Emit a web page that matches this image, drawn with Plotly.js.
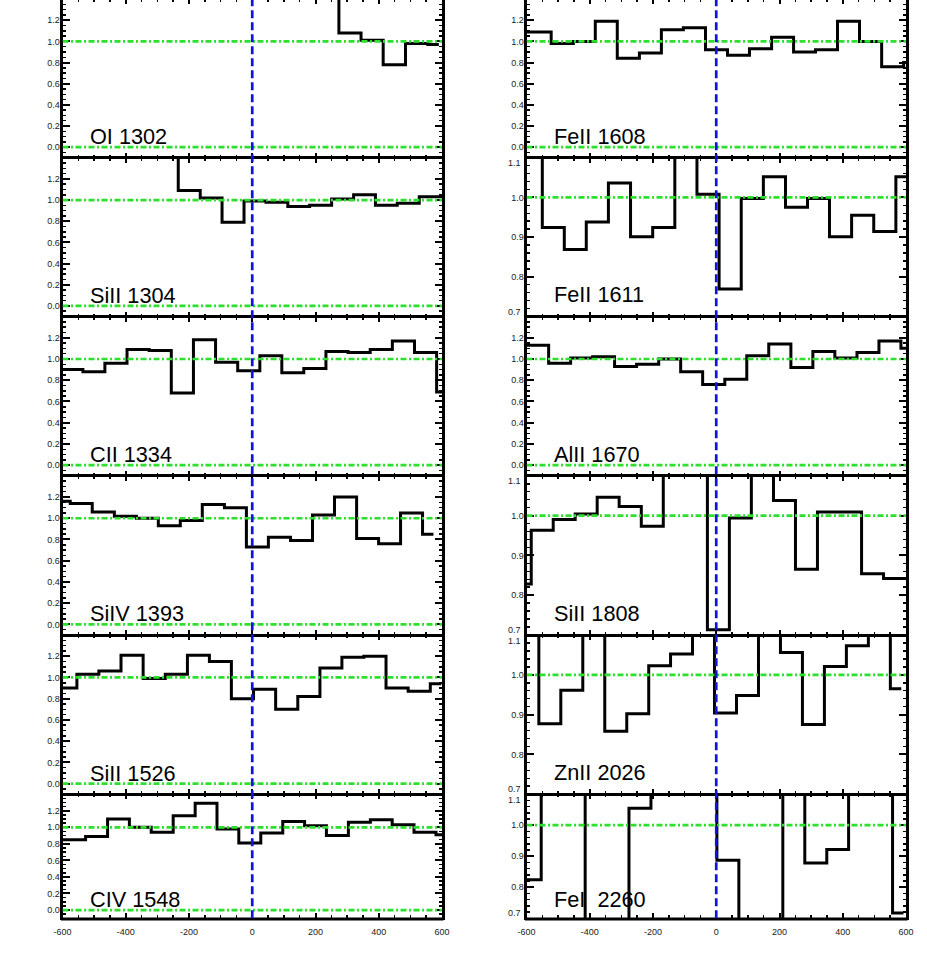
<!DOCTYPE html>
<html><head><meta charset="utf-8">
<script src="https://cdn.plot.ly/plotly-3.0.1.min.js"></script>
<style>html,body{margin:0;padding:0;background:#fff;overflow:hidden}
#plot{position:absolute;left:0;top:-3px;width:927px;height:960px}</style>
</head><body><div id="plot"></div><script>
// ---- data (velocity km/s bin centres, normalised flux) ----
const labels = ["OI 1302","SiII 1304","CII 1334","SiIV 1393","SiII 1526","CIV 1548",
                "FeII 1608","FeII 1611","AlII 1670","SiII 1808","ZnII 2026","FeI\u00a0\u00a02260"];

const vel_OI1302  = [239, 309, 379, 449, 520, 590];
const flux_OI1302 = [1.6, 1.08, 1.01, 0.78, 0.98, 0.97];

const vel_SiII1304  = [-269, -199, -130, -61, 9, 78, 147, 216, 286, 355, 424, 493, 563, 632];
const flux_SiII1304 = [1.6, 1.09, 1.02, 0.79, 0.99, 0.98, 0.94, 0.95, 1.01, 1.05, 0.95, 0.97, 1.03, 1.03];

const vel_CII1334  = [-640, -570, -501, -431, -361, -291, -221, -151, -81, -11, 59, 128, 198, 268, 338, 408, 478, 548, 618];
const flux_CII1334 = [0.90, 0.90, 0.88, 0.96, 1.09, 1.08, 0.68, 1.18, 0.97, 0.89, 1.03, 0.87, 0.91, 1.07, 1.06, 1.09, 1.17, 1.06, 0.69];

const vel_SiIV1393  = [-610, -541, -471, -401, -332, -262, -193, -123, -53, 16, 86, 156, 225, 295, 365, 434, 504, 573];
const flux_SiIV1393 = [1.16, 1.14, 1.06, 1.02, 1.00, 0.93, 0.98, 1.13, 1.10, 0.73, 0.82, 0.79, 1.03, 1.20, 0.81, 0.76, 1.05, 0.85];

const vel_SiII1526  = [-659, -589, -520, -450, -380, -310, -240, -170, -101, -31, 39, 109, 179, 249, 318, 388, 458, 528, 598];
const flux_SiII1526 = [0.90, 0.90, 1.03, 1.06, 1.21, 0.99, 1.03, 1.21, 1.15, 0.80, 0.89, 0.70, 0.82, 1.09, 1.19, 1.20, 0.90, 0.87, 0.94];

const vel_CIV1548  = [-631, -562, -492, -423, -354, -285, -215, -146, -77, -8, 62, 131, 200, 269, 339, 408, 477, 546, 616];
const flux_CIV1548 = [0.85, 0.85, 0.89, 1.10, 1.00, 0.94, 1.14, 1.29, 0.98, 0.81, 0.93, 1.07, 1.02, 0.90, 1.06, 1.09, 1.03, 0.94, 0.91];

const vel_FeII1608  = [-626, -557, -487, -417, -348, -278, -208, -139, -69, 1, 70, 140, 210, 279, 349, 418, 488, 558, 627];
const flux_FeII1608 = [1.09, 1.09, 0.98, 1.00, 1.19, 0.84, 0.89, 1.11, 1.13, 0.92, 0.87, 0.93, 1.04, 0.90, 0.92, 1.19, 1.00, 0.76, 0.80];

const vel_FeII1611  = [-585, -515, -446, -376, -306, -236, -166, -96, -26, 44, 114, 184, 254, 323, 393, 463, 533, 603];
const flux_FeII1611 = [1.2, 0.924, 0.869, 0.938, 1.036, 0.901, 0.924, 1.2, 1.008, 0.769, 0.997, 1.052, 0.975, 0.997, 0.901, 0.955, 0.914, 1.052];

const vel_AlII1670  = [-635, -565, -495, -426, -356, -287, -217, -147, -78, -8, 62, 131, 201, 271, 340, 410, 480, 549, 619];
const flux_AlII1670 = [1.13, 1.13, 0.96, 1.01, 1.02, 0.93, 0.95, 1.00, 0.88, 0.76, 0.81, 1.03, 1.14, 0.92, 1.07, 1.01, 1.06, 1.17, 1.10];

const vel_SiII1808  = [-620, -550, -481, -411, -342, -272, -202, -133, -63, 7, 76, 146, 216, 285, 355, 425, 494, 564, 633];
const flux_SiII1808 = [0.828, 0.963, 0.99, 1.004, 1.046, 1.023, 0.973, 1.2, 1.2, 0.713, 0.994, 1.2, 1.038, 0.865, 1.009, 1.009, 0.854, 0.842, 0.842];

const vel_ZnII2026  = [-596, -526, -457, -387, -318, -248, -179, -110, -40, 29, 99, 168, 238, 307, 377, 446, 516, 585];
const flux_ZnII2026 = [1.2, 0.877, 0.961, 1.2, 0.858, 0.902, 1.023, 1.052, 1.2, 0.904, 0.948, 1.2, 1.056, 0.875, 1.021, 1.073, 1.2, 0.965];

const vel_FeI2260  = [-658, -588, -519, -449, -380, -311, -241, -172, -102, -33, 37, 106, 176, 245, 315, 384, 453, 523, 592];
const flux_FeI2260 = [0.824, 0.824, 1.2, 1.2, 0.6, 0.6, 1.055, 1.2, 1.2, 1.2, 0.887, 0.6, 0.6, 1.2, 0.878, 0.922, 1.2, 1.2, 0.717];

const xTickVals = [-600, -400, -200, 0, 200, 400, 600];
const xTickText = ["-600", "-400", "-200", "0", "200", "400", "600"];
const wideTickVals = [0, 0.2, 0.4, 0.6, 0.8, 1.0, 1.2];
const wideTickText = ["0.0", "0.2", "0.4", "0.6", "0.8", "1.0", "1.2"];
const narrowTickVals = [0.7, 0.8, 0.9, 1.0, 1.1];
const narrowTickText = ["", "0.8", "0.9", "1.0", ""];
const narrowEdgeText = ["0.7", "1.1"];

const series = [
  [vel_OI1302, flux_OI1302], [vel_SiII1304, flux_SiII1304], [vel_CII1334, flux_CII1334],
  [vel_SiIV1393, flux_SiIV1393], [vel_SiII1526, flux_SiII1526], [vel_CIV1548, flux_CIV1548],
  [vel_FeII1608, flux_FeII1608], [vel_FeII1611, flux_FeII1611], [vel_AlII1670, flux_AlII1670],
  [vel_SiII1808, flux_SiII1808], [vel_ZnII2026, flux_ZnII2026], [vel_FeI2260, flux_FeI2260]
];
const wide = [true, true, true, true, true, true, true, false, true, false, false, false];

// ---- layout geometry ----
const W = 927, H = 960, OFF = 3;
const rowsPx = [-0.9, 157.7, 316.5, 475.8, 635, 794.2, 918.3];
const colsPx = [[62.5, 442], [526.5, 906]];
const fy = p => 1 - (p + OFF) / H;

const GREEN = '#2ee02e', BLUE = '#1212e0';
const FONT = 'Liberation Sans, Arial, sans-serif';
const tickFont = {family: FONT, size: 9, color: '#222'};

const traces = [], layout = {
  width: W, height: H, margin: {l: 0, r: 0, t: 0, b: 0},
  paper_bgcolor: 'white', plot_bgcolor: 'white', showlegend: false,
  shapes: [], annotations: []
};

for (let i = 0; i < 12; i++) {
  const n = i + 1, col = i < 6 ? 0 : 1, row = i % 6;
  const xs = n === 1 ? '' : String(n);
  const xa = 'x' + xs, ya = 'y' + xs;
  layout['xaxis' + xs] = {
    domain: [colsPx[col][0] / W, colsPx[col][1] / W], anchor: ya,
    range: [-600, 600], showline: true, linecolor: 'black', linewidth: 1.5, mirror: 'allticks',
    ticks: 'inside', ticklen: 5, tickwidth: 2, tickcolor: 'black',
    tickmode: 'array', tickvals: xTickVals, ticktext: xTickText,
    minor: {ticks: 'inside', tickmode: 'linear', tick0: 0, dtick: 50, ticklen: 3, tickwidth: 1.5, tickcolor: 'black'},
    showgrid: false, zeroline: false, showticklabels: row === 5,
    tickfont: tickFont, ticklabelstandoff: 4
  };
  const isWide = wide[i];
  layout['yaxis' + xs] = {
    domain: [fy(rowsPx[row + 1]), fy(rowsPx[row])], anchor: xa,
    range: isWide ? [-0.1, 1.4] : [0.7, 1.1],
    showline: true, linecolor: 'black', linewidth: 3, mirror: 'allticks',
    ticks: 'inside', ticklen: 7, tickwidth: 2, tickcolor: 'black',
    tickmode: 'array', tickvals: isWide ? wideTickVals : narrowTickVals,
    ticktext: isWide ? wideTickText : narrowTickText,
    minor: {ticks: 'inside', tickmode: 'linear', tick0: 0, dtick: isWide ? 0.05 : 0.02, ticklen: 3.5, tickwidth: 1.5, tickcolor: 'black'},
    showgrid: false, zeroline: false, tickfont: tickFont, ticklabelstandoff: -2
  };
  traces.push({
    x: series[i][0], y: series[i][1], xaxis: xa, yaxis: ya, type: 'scatter', mode: 'lines',
    line: {shape: 'hvh', color: 'black', width: 3}, hoverinfo: 'skip'
  });
  layout.shapes.push({type: 'line', xref: xa, yref: ya, x0: -600, x1: 600, y0: 1, y1: 1,
    line: {color: GREEN, width: 2.7, dash: '6px,2.5px,2px,2.5px'}});
  if (isWide) layout.shapes.push({type: 'line', xref: xa, yref: ya, x0: -600, x1: 600, y0: 0, y1: 0,
    line: {color: GREEN, width: 2.7, dash: '6px,2.5px,2px,2.5px'}});
  layout.annotations.push({
    xref: xa + ' domain', yref: ya, x: 0.066, y: isWide ? 0.0 : 0.728,
    xanchor: 'left', yanchor: 'bottom', yshift: -4, showarrow: false, text: labels[i],
    font: {family: FONT, size: 21.7, color: 'black'}
  });
  if (!isWide) {
    // end labels of the narrow axes, nudged inside the panel as in the original
    const xr = (colsPx[col][0] - 5) / W;
    layout.annotations.push({xref: 'paper', yref: 'paper', x: xr, y: fy(rowsPx[row + 1] - 5),
      xanchor: 'right', yanchor: 'middle', showarrow: false, text: narrowEdgeText[0], font: tickFont, borderpad: 0});
    layout.annotations.push({xref: 'paper', yref: 'paper', x: xr, y: fy(rowsPx[row] + 5.5),
      xanchor: 'right', yanchor: 'middle', showarrow: false, text: narrowEdgeText[1], font: tickFont, borderpad: 0});
  }
}
// bottom frame of the last row, thick as the others
colsPx.forEach(c => layout.shapes.push({type: 'line', xref: 'paper', yref: 'paper',
  x0: (c[0] - 1.5) / W, x1: (c[1] + 1.5) / W, y0: fy(rowsPx[6] + 0.75), y1: fy(rowsPx[6] + 0.75),
  line: {color: 'black', width: 3}}));
// blue dashed zero-velocity line through each column
['x', 'x7'].forEach(xa => layout.shapes.push({
  type: 'line', xref: xa, yref: 'paper', x0: 0, x1: 0, y0: fy(rowsPx[6]), y1: 1,
  line: {color: BLUE, width: 2.7, dash: '8px,4px'}
}));

Plotly.newPlot('plot', traces, layout, {staticPlot: true});
</script></body></html>
